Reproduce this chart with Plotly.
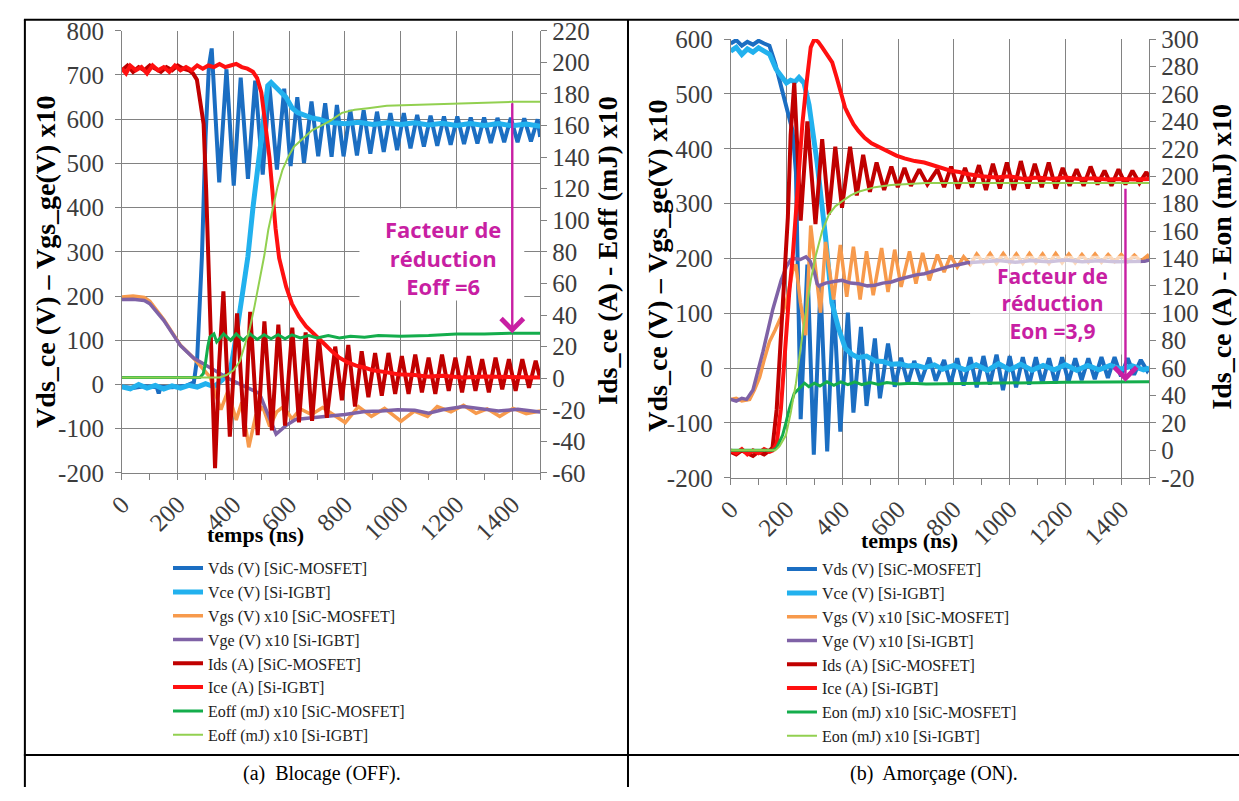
import plotly.graph_objects as go

W, H = 1239, 801
def fx(x): return x / W
def fy(y): return 1 - y / H

# ================= Panel (a) : Blocage (OFF) =================
t_vds_a = [0, 40, 80, 125, 132, 140, 180, 230, 258, 270, 287, 300, 312, 322, 349, 375, 401, 426, 452, 478,
           505, 529, 556, 582, 605, 629, 653, 680, 704, 729, 752, 771, 795, 819, 843, 867, 891, 915, 939, 963,
           987, 1011, 1035, 1059, 1083, 1107, 1131, 1155, 1179, 1203, 1227, 1251, 1275, 1299, 1323, 1347, 1371,
           1395, 1419, 1443, 1467, 1491, 1500]
vds_a = [-5, -8, -4, -6, -20, -5, -6, -3, 5, 60, 290, 560, 720, 760, 457, 713, 450, 694, 465, 687,
         475, 676, 486, 669, 494, 650, 501, 640, 516, 636, 515, 632, 516, 621, 518, 620, 522, 617, 526, 614,
         530, 614, 534, 610, 538, 608, 540, 606, 542, 606, 544, 604, 545, 604, 546, 603, 548,
         603, 548, 602, 550, 600, 560]

t_vce_a = [0, 30, 60, 90, 120, 150, 180, 210, 240, 270, 300, 330, 360, 390, 410, 430, 452, 470, 494, 511,
           523, 535, 550, 564, 588, 611, 630, 647, 680, 706, 730, 760, 800, 850, 900, 950, 1000, 1050, 1100,
           1150, 1200, 1250, 1300, 1350, 1400, 1450, 1500]
vce_a = [-5, -10, 0, -8, -2, -10, -3, -8, -2, -6, 2, -5, 10, 35, 110, 200, 290, 400, 530, 632,
         676, 683, 672, 665, 650, 625, 615, 610, 603, 600, 595, 592, 590, 593, 588, 592, 588, 592, 587,
         591, 586, 590, 586, 590, 585, 589, 584]

t_vgs_a = [0, 40, 80, 100, 150, 210, 257, 293, 317, 335, 355, 380, 410, 430, 455, 480, 505, 530, 555, 580,
           610, 640, 680, 720, 753, 801, 848, 895, 942, 1001, 1049, 1096, 1131, 1180, 1225, 1270, 1310, 1355,
           1403, 1450, 1500]
vgs_a = [198, 200, 197, 188, 147, 89, 60, 34, 16, -20, -57, -15, -80, -40, -142, -70, -50, -95, -62, -50,
         -78, -55, -68, -52, -65, -86, -50, -72, -54, -83, -60, -72, -50, -62, -47, -65, -55, -72,
         -54, -66, -60]

t_vge_a = [0, 40, 80, 100, 150, 210, 257, 305, 350, 387, 446, 493, 517, 553, 588, 623, 682, 741, 800, 871,
           930, 989, 1050, 1100, 1150, 1225, 1280, 1350, 1420, 1500]
vge_a = [192, 193, 190, 183, 145, 88, 60, 42, 25, 12, -6, -20, -57, -112, -93, -79, -75, -72, -68, -61,
         -60, -57, -58, -65, -57, -50, -55, -60, -56, -62]

t_ids_a = [0, 20, 40, 60, 80, 100, 120, 140, 160, 180, 200, 220, 240, 255, 269, 281, 293, 302, 310, 320,
           334, 349, 364, 387, 413, 440, 460, 487, 511, 538, 561, 585, 611, 635, 659, 682, 706, 735, 765, 789,
           812, 836, 860, 884, 908, 932, 956, 980, 1004, 1028, 1052, 1076, 1100, 1124, 1148, 1172, 1196, 1220,
           1244, 1268, 1292, 1316, 1340, 1364, 1388, 1412, 1436, 1460, 1484, 1500]
ids_a = [195, 198, 194, 197, 195, 198, 196, 194, 197, 195, 198, 196, 195, 193, 189, 175, 161, 120, 75, 10,
         -57, 10, 55, -37, 41, -37, 42, -36, 36, -33, 34, -30, 32, -28, 29, -27, 26, -25, 20, -14,
         21, -18, 17, -12, 16, -11, 16, -10, 14, -10, 15, -9, 13, -10, 15, -8, 13, -9,
         14, -8, 12, -9, 13, -7, 12, -8, 12, -6, 11, 0]

t_ice_a = [0, 15, 30, 50, 70, 90, 110, 130, 150, 170, 190, 210, 230, 250, 270, 290, 310, 330, 350, 370,
           390, 410, 430, 450, 470, 485, 500, 515, 529, 540, 551, 564, 589, 610, 635, 660, 682, 706, 730, 753,
           780, 810, 840, 872, 900, 940, 989, 1050, 1100, 1150, 1225, 1300, 1400, 1500]
ice_a = [196, 193, 198, 195, 197, 193, 198, 195, 197, 194, 198, 195, 197, 195, 198, 196, 198, 197, 199, 197,
         198, 199, 197, 196, 194, 190, 181, 160, 140, 118, 95, 76, 58, 47, 39, 33, 29, 25, 21, 17,
         13, 10, 8, 6.6, 5, 4, 2.5, 2, 1, 1.5, 0.5, 1, 0.5, 0.5]

t_esic_a = [0, 280, 292, 300, 308, 315, 330, 340, 365, 390, 410, 435, 460, 485, 510, 535, 560, 585, 610, 640,
            670, 700, 740, 780, 820, 870, 920, 1000, 1100, 1200, 1300, 1400, 1500]
esic_a = [0.5, 0.5, 3, 10, 20, 26, 28, 23, 28, 24, 28, 24, 28, 24.5, 27.5, 25, 27.5, 25, 27.5, 25.5,
          27, 25.5, 27, 25.5, 26.5, 26, 27, 26.5, 27, 28, 28, 28.5, 28.5]

t_eigbt_a = [0, 350, 375, 400, 423, 440, 458, 475, 493, 511, 525, 541, 558, 576, 596, 617, 650, 682, 715, 747,
             789, 835, 883, 950, 1036, 1120, 1213, 1300, 1402, 1500]
eigbt_a = [0.5, 0.5, 2, 5, 10.7, 20, 31, 45, 62, 78, 94, 108, 121, 132, 140, 146.6, 152, 157, 160, 163,
           168, 170, 171, 172.5, 173, 173.5, 174, 174.5, 175, 175]

# ================= Panel (b) : Amorçage (ON) =================
t_vds_b = [0, 20, 40, 60, 80, 100, 120, 139, 160, 175, 190, 204, 222, 234, 240, 251, 275, 298, 322, 346,
           369, 393, 420, 440, 467, 487, 517, 535, 564, 588, 611, 635, 658, 682, 712, 735, 765, 788, 812, 835,
           859, 882, 906, 929, 953, 976, 1000, 1023, 1047, 1070, 1094, 1117, 1141, 1164, 1188, 1211, 1235, 1258,
           1282, 1305, 1329, 1352, 1376, 1399, 1423, 1446, 1470, 1493, 1500]
vds_b = [592, 598, 588, 595, 590, 597, 592, 588, 555, 527, 500, 468, 433, 357, 198, -93, 189, -158, 148, -152,
         125, -116, 101, -81, 75, -69, 54, -55, 45, -34, 19, -28, 13, -25, 19, -23, 15, -30, 18, -32,
         20, -35, 22, -30, 25, -40, 22, -35, 20, -30, 20, -28, 18, -28, 20, -25, 18, -22,
         18, -20, 20, -18, 20, -15, 18, -12, 15, -5, 0]

t_vce_b = [0, 20, 40, 60, 80, 100, 120, 140, 163, 186, 200, 215, 230, 245, 263, 281, 310, 340, 363, 387,
           411, 435, 458, 487, 517, 546, 576, 606, 635, 665, 694, 730, 760, 800, 840, 880, 920, 960, 1000,
           1040, 1080, 1120, 1160, 1200, 1240, 1280, 1320, 1360, 1400, 1440, 1480, 1500]
vce_b = [578, 585, 572, 582, 576, 584, 578, 572, 545, 530, 520, 525, 522, 530, 520, 480, 374, 239, 119, 72,
         36, 25, 19, 22, 13, 12, 7, 8, 4, 5, 1, 6, -2, 5, -3, 6, -4, 8, -3,
         7, -4, 5, -3, 6, -4, 5, -3, 5, -2, 4, -3, 0]

t_vgs_b = [0, 20, 40, 68, 85, 104, 120, 139, 160, 175, 187, 204, 222, 234, 250, 269, 287, 322, 340, 369,
           393, 416, 440, 464, 487, 511, 541, 564, 588, 611, 641, 664, 688, 712, 741, 765, 788, 812, 835, 859,
           882, 906, 930, 953, 977, 1000, 1024, 1047, 1071, 1094, 1118, 1141, 1165, 1188, 1212, 1235, 1259,
           1282, 1306, 1329, 1353, 1376, 1400, 1423, 1447, 1470, 1494, 1500]
vgs_b = [-57, -55, -60, -57, -40, -16.5, 15, 48, 70, 89, 101, 130, 177, 189, 120, 60, 260, 101, 230, 125,
         224.5, 130, 221.5, 125, 213, 133, 219, 139, 216, 148, 213, 154, 210, 160, 207, 175, 205, 184, 203, 189,
         208, 192, 209, 191, 209, 192, 208, 191, 209, 192, 208, 191, 209, 192, 208, 192, 207,
         193, 208, 193, 207, 194, 207, 194, 206, 195, 205, 200]

t_vge_b = [0, 20, 40, 57, 80, 116, 151, 181, 200, 216, 230, 250, 270, 285, 300, 310, 316, 340, 370, 399,
           430, 458, 490, 517, 545, 576, 605, 635, 665, 694, 725, 753, 788, 820, 847, 900, 960, 1020, 1080,
           1140, 1200, 1260, 1320, 1380, 1440, 1484, 1500]
vge_b = [-57, -60, -55, -57, -40, 30.5, 107, 160, 185, 198, 200, 198, 203, 195, 175, 154, 150, 155, 158, 160,
         155, 154, 150, 151, 155, 157, 162, 166, 170, 172, 177, 180, 186, 189, 192, 194, 196, 193, 196,
         194, 197, 194, 196, 194, 195, 195, 197]

t_ids_b = [0, 20, 40, 60, 80, 100, 120, 140, 150, 165, 180, 195, 205, 215, 228, 251, 275, 304, 328, 352,
           375, 399, 428, 452, 475, 499, 523, 550, 576, 599, 623, 646, 676, 705, 741, 765, 790, 815, 840, 865,
           890, 915, 940, 965, 990, 1015, 1040, 1065, 1090, 1115, 1140, 1165, 1190, 1215, 1240, 1265, 1290,
           1315, 1340, 1365, 1390, 1415, 1440, 1465, 1490, 1500]
ids_b = [-1, -3, 0, -2, -4, -1, -3, 0, 2, 30, 80, 130, 170, 230, 268, 167.5, 240, 165, 227, 172,
         221.5, 177, 221.5, 186, 215.6, 188.6, 210, 190, 207, 192, 206, 193, 205, 194, 205, 192, 207, 191, 206, 192,
         208, 190, 209, 191, 210, 190, 211, 191, 209, 192, 210, 191, 206, 193, 205, 193, 207,
         194, 204, 193, 205, 194, 204, 195, 203, 199]

t_ice_b = [0, 20, 40, 60, 80, 100, 120, 140, 151, 165, 180, 195, 210, 222, 240, 257, 272, 287, 300, 314,
           328, 346, 364, 380, 393, 410, 422, 440, 458, 480, 505, 535, 564, 594, 623, 660, 694, 729, 760, 788,
           820, 847, 900, 950, 1000, 1050, 1100, 1150, 1200, 1250, 1300, 1350, 1400, 1450, 1500]
ice_b = [0, -2, 1, -3, 0, -2, 1, -1, 0, 5, 30, 75, 115, 140, 195, 238, 268, 294, 300, 298,
         294, 288, 283, 272, 262, 250, 245, 238, 233, 228, 224, 221, 218, 215, 213, 211, 210, 207.5, 206, 204,
         203, 201.6, 200, 199, 200, 198, 199, 198, 199, 198, 198.5, 197.5, 198, 197.5, 198]

t_esic_b = [0, 151, 165, 186, 198, 210, 228, 240, 251, 265, 280, 300, 320, 345, 370, 395, 420, 445, 470, 500,
            530, 560, 600, 650, 700, 800, 900, 1000, 1100, 1200, 1300, 1400, 1500]
esic_b = [0, 0, 2, 11, 20, 30, 41.6, 44, 46, 49, 46.5, 49, 47, 50, 47.5, 50, 48, 50, 48, 49.5,
          48, 49.5, 48.5, 49, 48.5, 48.6, 49, 49, 49.4, 49.6, 49.8, 50, 50]

t_eigbt_b = [0, 160, 175, 198, 215, 234, 257, 272, 287, 305, 328, 352, 375, 399, 430, 458, 517, 575, 635, 700,
             800, 1000, 1200, 1500]
eigbt_b = [0, 0, 3, 11, 27, 49, 84, 105, 124, 142, 160, 172, 178, 181.6, 186, 188.6, 192, 193.5, 194.4, 195,
           195, 195, 195, 195]

names_a = ["Vds (V) [SiC-MOSFET]", "Vce (V) [Si-IGBT]", "Vgs (V) x10 [SiC-MOSFET]", "Vge (V) x10 [Si-IGBT]",
           "Ids (A) [SiC-MOSFET]", "Ice (A) [Si-IGBT]", "Eoff (mJ) x10 [SiC-MOSFET]", "Eoff (mJ) x10 [Si-IGBT]"]
names_b = ["Vds (V) [SiC-MOSFET]", "Vce (V) [Si-IGBT]", "Vgs (V) x10 [SiC-MOSFET]", "Vge (V) x10 [Si-IGBT]",
           "Ids (A) [SiC-MOSFET]", "Ice (A) [Si-IGBT]", "Eon (mJ) x10 [SiC-MOSFET]", "Eon (mJ) x10 [Si-IGBT]"]

note_a = "Facteur de<br>réduction<br>Eoff =6"
note_b = "Facteur de<br>réduction<br>Eon =3,9"

# axis ticks (labels written with a plain hyphen, as in the original)
x_ticks = [0, 200, 400, 600, 800, 1000, 1200, 1400]
yl_ticks_a = [-200, -100, 0, 100, 200, 300, 400, 500, 600, 700, 800]
yr_ticks_a = [-60, -40, -20, 0, 20, 40, 60, 80, 100, 120, 140, 160, 180, 200, 220]
yl_ticks_b = [-200, -100, 0, 100, 200, 300, 400, 500, 600]
yr_ticks_b = [-20, 0, 20, 40, 60, 80, 100, 120, 140, 160, 180, 200, 220, 240, 260, 280, 300]

colors = ["#1B6EC2", "#22B1EE", "#F79A4C", "#7F62A6", "#C00000", "#FF1010", "#14AD4C", "#92D050"]
widths = [4, 5, 3.5, 3.5, 4, 4, 3, 2]

ARROW_T = [1400, 1415]

MAGENTA = "#C81FA3"
GRID = "#828282"
SERIF = "Liberation Serif"
TICKFONT = dict(family=SERIF, size=25, color="#3C3C3C")

fig = go.Figure()

series_a = [(t_vds_a, vds_a, "y"), (t_vce_a, vce_a, "y"), (t_vgs_a, vgs_a, "y"), (t_vge_a, vge_a, "y"),
            (t_ids_a, ids_a, "y2"), (t_ice_a, ice_a, "y2"), (t_esic_a, esic_a, "y2"), (t_eigbt_a, eigbt_a, "y2")]
series_b = [(t_vds_b, vds_b, "y3"), (t_vce_b, vce_b, "y3"), (t_vgs_b, vgs_b, "y3"), (t_vge_b, vge_b, "y3"),
            (t_ids_b, ids_b, "y4"), (t_ice_b, ice_b, "y4"), (t_esic_b, esic_b, "y4"), (t_eigbt_b, eigbt_b, "y4")]

for i, (t, v, ya) in enumerate(series_a):
    fig.add_trace(go.Scatter(x=t, y=v, name=names_a[i], mode="lines", xaxis="x", yaxis=ya,
                             line=dict(color=colors[i], width=widths[i]), legend="legend", hoverinfo="skip"))
for i, (t, v, ya) in enumerate(series_b):
    fig.add_trace(go.Scatter(x=t, y=v, name=names_b[i], mode="lines", xaxis="x2", yaxis=ya,
                             line=dict(color=colors[i], width=widths[i]), legend="legend2", hoverinfo="skip"))

def labels(vals):
    return [str(v) for v in vals]

def xax(domain, anchor):
    return dict(domain=domain, anchor=anchor, range=[0, 1500], tickmode="array", tickvals=x_ticks,
                ticktext=labels(x_ticks), tickangle=-45,
                showgrid=True, gridcolor=GRID, gridwidth=1, showline=True, linecolor=GRID, linewidth=1,
                ticks="outside", ticklen=6, tickcolor=GRID, zeroline=False, tickfont=TICKFONT,
                minor=dict(dtick=100, tick0=0, ticks="outside", ticklen=6, tickcolor=GRID, showgrid=False),
                fixedrange=True)

def yleft(domain, anchor, rng, ticks):
    return dict(domain=domain, anchor=anchor, range=rng, tickmode="array", tickvals=ticks, ticktext=labels(ticks),
                showgrid=True, gridcolor=GRID, gridwidth=1,
                showline=True, linecolor=GRID, ticks="outside", ticklen=6, tickcolor=GRID, zeroline=False,
                tickfont=TICKFONT, ticklabelstandoff=6, fixedrange=True)

def yright(over, anchor, rng, ticks):
    return dict(overlaying=over, side="right", anchor=anchor, range=rng, tickmode="array", tickvals=ticks,
                ticktext=labels(ticks), showgrid=False,
                showline=True, linecolor=GRID, ticks="outside", ticklen=6, tickcolor=GRID, zeroline=False,
                tickfont=TICKFONT, fixedrange=True)

dom_xa = [fx(107.3), fx(531)]
dom_xb = [fx(724), fx(1148)]
dom_ya = [fy(476), fy(18.4)]
dom_yb = [fy(481), fy(27)]

leg_common = dict(xanchor="left", yanchor="top", font=dict(family=SERIF, size=16, color="#222222"),
                  bgcolor="rgba(0,0,0,0)", itemwidth=30, tracegroupgap=0, itemclick=False, itemdoubleclick=False)

fig.update_layout(
    width=W, height=H, margin=dict(l=0, r=0, t=0, b=0),
    paper_bgcolor="white", plot_bgcolor="white",
    xaxis=xax(dom_xa, "y"), yaxis=yleft(dom_ya, "x", [-200, 800], yl_ticks_a),
    yaxis2=yright("y", "x", [-60, 220], yr_ticks_a),
    xaxis2=xax(dom_xb, "y3"), yaxis3=yleft(dom_yb, "x2", [-200, 600], yl_ticks_b),
    yaxis4=yright("y3", "x2", [-20, 300], yr_ticks_b),
    legend=dict(x=fx(154), y=fy(557), **leg_common),
    legend2=dict(x=fx(776), y=fy(558), **leg_common),
    showlegend=True,
)

def val_at(t, v, x):
    best = min(range(len(t)), key=lambda k: abs(t[k] - x))
    return v[best]

# White text boxes behind the magenta notes
fig.add_shape(type="rect", xref="x", yref="y", x0=852, x1=1443, y0=190, y1=398,
              fillcolor="white", line=dict(width=0), layer="between")
fig.add_shape(type="rect", xref="x2", yref="y3", x0=858, x1=1470, y0=25, y1=205,
              fillcolor="rgba(255,255,255,0.62)", line=dict(width=0), layer="above")

ann = []
ann.append(dict(text="<b>" + note_a + "</b>", xref="x", yref="y", x=1150, y=288, showarrow=False,
                xanchor="center", yanchor="middle", font=dict(family="Open Sans", size=22, color=MAGENTA)))
ann.append(dict(text="<b>" + note_b + "</b>", xref="x2", yref="y3", x=1154, y=117, showarrow=False,
                xanchor="center", yanchor="middle", font=dict(family="Open Sans", size=21, color=MAGENTA)))
ann.append(dict(text="", xref="x", yref="y2", x=ARROW_T[0], y=val_at(t_esic_a, esic_a, ARROW_T[0]),
                axref="x", ayref="y2", ax=ARROW_T[0], ay=val_at(t_eigbt_a, eigbt_a, ARROW_T[0]),
                showarrow=True, arrowhead=4, arrowsize=1.8, arrowwidth=2.4, arrowcolor=MAGENTA, standoff=0))
ann.append(dict(text="", xref="x2", yref="y4", x=ARROW_T[1], y=val_at(t_esic_b, esic_b, ARROW_T[1]),
                axref="x2", ayref="y4", ax=ARROW_T[1], ay=val_at(t_eigbt_b, eigbt_b, ARROW_T[1]) - 3,
                showarrow=True, arrowhead=4, arrowsize=1.8, arrowwidth=2.4, arrowcolor=MAGENTA, standoff=0))

def title(text, x, y, angle=0, size=28):
    return dict(text="<b>" + text + "</b>", xref="paper", yref="paper", x=fx(x), y=fy(y), showarrow=False,
                xanchor="center", yanchor="middle", textangle=angle, font=dict(family=SERIF, size=size, color="black"))

ann.append(title("Vds_ce (V) – Vgs_ge(V) x10", 30, 258, -90))
ann.append(title("Ids_ce (A) - Eoff (mJ) x10", 599, 246, -90))
ann.append(title("Vds_ce (V) – Vgs_ge(V) x10", 650, 262, -90))
ann.append(title("Ids_ce (A) - Eon (mJ) x10", 1221, 252, -90))
ann.append(title("temps (ns)", 243, 540, 0, 22))
ann.append(title("temps (ns)", 905, 546, 0, 22))

for txt, x in [("(a)  Blocage (OFF).", 310), ("(b)  Amorçage (ON).", 930)]:
    ann.append(dict(text=txt, xref="paper", yref="paper", x=fx(x), y=fy(787), showarrow=False,
                    xanchor="center", yanchor="middle", font=dict(family=SERIF, size=20, color="black")))

fig.update_layout(annotations=ann)

# table borders
for (x0, y0, x1, y1) in [(8, 7, 1239, 7), (9, 7, 9, 801), (620, 7, 620, 801), (8, 768, 1239, 768)]:
    fig.add_shape(type="line", xref="paper", yref="paper", x0=fx(x0), y0=fy(y0), x1=fx(x1), y1=fy(y1),
                  line=dict(color="black", width=2), layer="above")

fig.write_html("out.html", config={"displayModeBar": False},
               post_script="document.body.style.margin='0px';document.body.style.overflow='hidden';")
